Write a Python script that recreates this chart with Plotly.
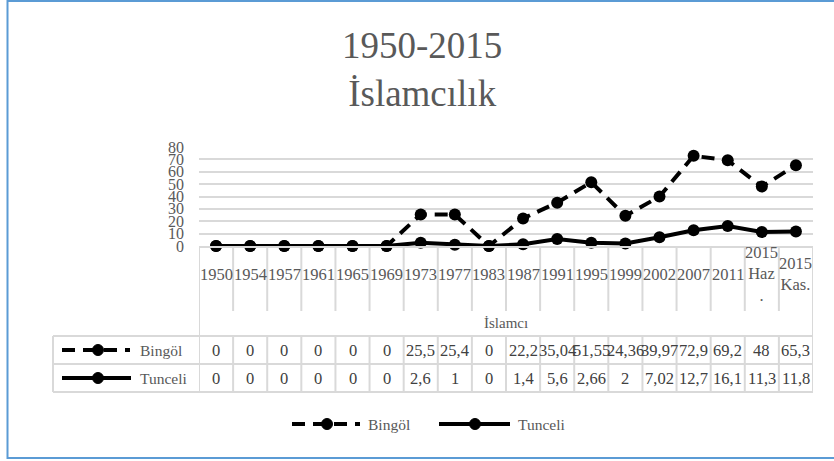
import plotly.graph_objects as go

# ---------------- data ----------------
categories = ["1950", "1954", "1957", "1961", "1965", "1969", "1973", "1977", "1983",
              "1987", "1991", "1995", "1999", "2002", "2007", "2011", "2015 Haz.", "2015 Kas."]
tick_labels = ["1950", "1954", "1957", "1961", "1965", "1969", "1973", "1977", "1983",
               "1987", "1991", "1995", "1999", "2002", "2007", "2011", "2015<br>Haz<br>.", "2015<br>Kas."]
bingol = [0, 0, 0, 0, 0, 0, 25.5, 25.4, 0, 22.2, 35.04, 51.55, 24.36, 39.97, 72.9, 69.2, 48, 65.3]
tunceli = [0, 0, 0, 0, 0, 0, 2.6, 1, 0, 1.4, 5.6, 2.66, 2, 7.02, 12.7, 16.1, 11.3, 11.8]
series_names = ["Bingöl", "Tunceli"]
title_text = "1950-2015<br>İslamcılık"
axis_title = "İslamcı"

# ---------------- layout helpers ----------------
W, H = 834, 461
FONT = "Liberation Serif"
GRID = "#D9D9D9"
TXT = "#595959"
VAL = "#404040"
BINGOL_DASH = "13px,8px"


def px(p):
    return p / W


def py(p):
    return 1 - p / H


def fmt(v):
    return f"{v:g}".replace(".", ",")


n = len(categories)
plot_l, plot_r = 199, 813
plot_t, plot_b = 147, 246

fig = go.Figure()
fig.add_trace(go.Scatter(
    x=categories, y=bingol, name=series_names[0], mode="lines+markers",
    line=dict(color="black", width=4, dash=BINGOL_DASH),
    marker=dict(size=12, color="black"), cliponaxis=False, showlegend=False))
fig.add_trace(go.Scatter(
    x=categories, y=tunceli, name=series_names[1], mode="lines+markers",
    line=dict(color="black", width=4),
    marker=dict(size=12, color="black"), cliponaxis=False, showlegend=False))

shapes = []
annotations = []

# chart border
shapes.append(dict(type="rect", xref="paper", yref="paper",
                   x0=px(7.5), x1=px(840), y0=py(1), y1=py(458),
                   line=dict(color="#5B9BD5", width=2), layer="below"))

# header vertical lines (between category labels)
for i in range(n + 1):
    xb = i - 0.5
    if i == 0 or i == n:
        y_end = 392
    else:
        y_end = 311
    shapes.append(dict(type="line", xref="x", yref="paper", x0=xb, x1=xb,
                       y0=py(plot_b), y1=py(y_end), line=dict(color=GRID, width=2)))
    # table column lines
    shapes.append(dict(type="line", xref="x", yref="paper", x0=xb, x1=xb,
                       y0=py(336), y1=py(392), line=dict(color=GRID, width=2)))

# table horizontal lines and left border
for yy in (336, 364, 392):
    shapes.append(dict(type="line", xref="paper", yref="paper", x0=px(53), x1=px(plot_r),
                       y0=py(yy), y1=py(yy), line=dict(color=GRID, width=2)))
shapes.append(dict(type="line", xref="paper", yref="paper", x0=px(53), x1=px(53),
                   y0=py(336), y1=py(392), line=dict(color=GRID, width=2)))

# category labels
for i, lab in enumerate(tick_labels):
    annotations.append(dict(x=i, y=py(274), xref="x", yref="paper", text=lab,
                            showarrow=False, xanchor="center", yanchor="middle",
                            font=dict(family=FONT, size=16.5, color=TXT)))

# axis title
annotations.append(dict(x=(n - 1) / 2, y=py(323), xref="x", yref="paper", text=axis_title,
                        showarrow=False, xanchor="center", yanchor="middle",
                        font=dict(family=FONT, size=15, color=TXT)))

# table values
for row_y, vals in ((350, bingol), (378, tunceli)):
    for i, v in enumerate(vals):
        annotations.append(dict(x=i, y=py(row_y), xref="x", yref="paper", text=fmt(v),
                                showarrow=False, xanchor="center", yanchor="middle",
                                font=dict(family=FONT, size=16.5, color=VAL)))


def legend_key(x0, x1, xm, y, dash, name, xt):
    shapes.append(dict(type="line", xref="paper", yref="paper", x0=px(x0), x1=px(x1),
                       y0=py(y), y1=py(y), line=dict(color="black", width=4, dash=dash)))
    r = 5.5
    shapes.append(dict(type="circle", xref="paper", yref="paper",
                       x0=px(xm - r), x1=px(xm + r), y0=py(y + r), y1=py(y - r),
                       fillcolor="black", line=dict(color="black", width=1)))
    annotations.append(dict(x=px(xt), y=py(y), xref="paper", yref="paper", text=name,
                            showarrow=False, xanchor="left", yanchor="middle",
                            font=dict(family=FONT, size=15.5, color=TXT)))


# keys inside the table
legend_key(62, 130, 98, 350, BINGOL_DASH, series_names[0], 138)
legend_key(62, 131, 98, 378, "solid", series_names[1], 138)
# bottom legend
legend_key(292, 360, 327, 424, BINGOL_DASH, series_names[0], 366)
legend_key(439, 510, 475, 424, "solid", series_names[1], 516)

# title
annotations.append(dict(x=px(422.5), y=py(69), xref="paper", yref="paper", text=title_text,
                        showarrow=False, xanchor="center", yanchor="middle",
                        font=dict(family=FONT, size=37, color=TXT)))

fig.update_layout(
    width=W, height=H, autosize=False,
    margin=dict(l=0, r=0, t=0, b=0, autoexpand=False),
    paper_bgcolor="white", plot_bgcolor="white",
    showlegend=False,
    shapes=shapes, annotations=annotations,
    xaxis=dict(type="category", domain=[px(plot_l), px(plot_r)], range=[-0.5, n - 0.5],
               showticklabels=False, showgrid=False, zeroline=False, automargin=False,
               showline=True, linecolor=GRID, linewidth=2, ticks=""),
    yaxis=dict(domain=[py(plot_b), py(plot_t)], range=[0, 80], dtick=10, tick0=0,
               showgrid=True, gridcolor=GRID, gridwidth=2, zeroline=False, automargin=False,
               showline=False, ticks="", ticklabelstandoff=14,
               tickfont=dict(family=FONT, size=16, color=TXT)),
)

fig.write_html("out.html", config={"displayModeBar": False},
               post_script="document.documentElement.style.margin='0';"
                           "document.body.style.margin='0';"
                           "document.documentElement.style.overflow='hidden';"
                           "document.body.style.overflow='hidden';")
